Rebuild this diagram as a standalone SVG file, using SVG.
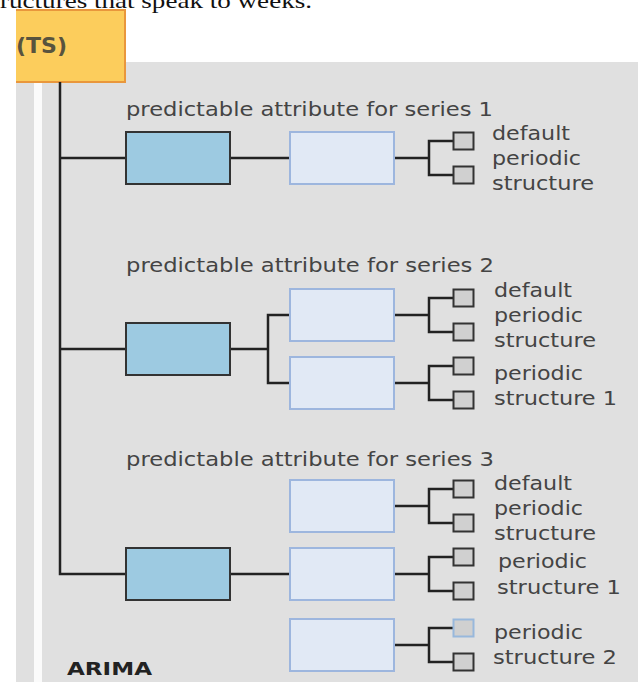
<svg xmlns="http://www.w3.org/2000/svg" width="638" height="682" viewBox="0 0 638 682">
<style>
.conn{stroke:#222;stroke-width:2.5;fill:none}
.dark{fill:#9dcae1;stroke:#333;stroke-width:2}
.light{fill:#e1e9f5;stroke:#9db6de;stroke-width:2}
.sq{fill:#d0d0d0;stroke:#333;stroke-width:2}
.sqb{fill:#d0d0d0;stroke:#98b8dc;stroke-width:2}
.lbl{font-family:"DejaVu Sans","Liberation Sans",sans-serif;font-size:19.5px;fill:#444}
.ser{font-family:"DejaVu Sans","Liberation Sans",sans-serif;font-size:19.5px;fill:#444}
</style>
<rect x="0" y="0" width="638" height="682" fill="#ffffff"/>
<text x="0" y="8" font-family="Liberation Serif, serif" font-size="22" fill="#111" textLength="312" lengthAdjust="spacingAndGlyphs">ructures that speak to weeks.</text>
<rect x="16" y="62" width="622" height="620" fill="#e0e0e0"/>
<rect x="34" y="82" width="8" height="600" fill="#fbfbfb"/>
<g id="ts">
<rect x="16" y="10" width="109" height="72" fill="#fccd5c"/>
<path d="M16,10 H125 V82 H16" fill="none" stroke="#e9973c" stroke-width="2"/>
<text x="16" y="53" font-family="DejaVu Sans, sans-serif" font-weight="bold" font-size="21" fill="#58533e" textLength="51" lengthAdjust="spacingAndGlyphs">(TS)</text>
</g>
<g id="connectors">
<path class="conn" d="M60,82 V574 H126 M60,158 H126 M60,349 H126 M230,158 H290 M230,349 H268 M290,315 H268 V383 H290 M230,574 H290"/>
<path class="conn" d="M394,158 H429 M453,141 H429 V175 H453"/>
<path class="conn" d="M394,315 H429 M453,298 H429 V332 H453"/>
<path class="conn" d="M394,383 H429 M453,366 H429 V400 H453"/>
<path class="conn" d="M394,506 H429 M453,489 H429 V523 H453"/>
<path class="conn" d="M394,574 H429 M453,557 H429 V591 H453"/>
<path class="conn" d="M394,645 H429 M453,628 H429 V662 H453"/>
</g>
<g id="series1">
<text class="ser" x="126" y="116" textLength="367" lengthAdjust="spacingAndGlyphs">predictable attribute for series 1</text>
<rect class="dark" x="126" y="132" width="104" height="52"/>
</g>
<g id="s1-default">
<rect class="light" x="290" y="132" width="104" height="52"/>
<rect class="sq" x="453.5" y="132.5" width="20" height="17"/>
<rect class="sq" x="453.5" y="166.5" width="20" height="17"/>
<text class="lbl" x="492" y="140" textLength="78" lengthAdjust="spacingAndGlyphs">default</text>
<text class="lbl" x="492" y="165" textLength="89" lengthAdjust="spacingAndGlyphs">periodic</text>
<text class="lbl" x="492" y="190" textLength="102" lengthAdjust="spacingAndGlyphs">structure</text>
</g>
<g id="series2">
<text class="ser" x="126" y="272" textLength="368" lengthAdjust="spacingAndGlyphs">predictable attribute for series 2</text>
<rect class="dark" x="126" y="323" width="104" height="52"/>
</g>
<g id="s2-default">
<rect class="light" x="290" y="289" width="104" height="52"/>
<rect class="sq" x="453.5" y="289.5" width="20" height="17"/>
<rect class="sq" x="453.5" y="323.5" width="20" height="17"/>
<text class="lbl" x="494" y="297" textLength="78" lengthAdjust="spacingAndGlyphs">default</text>
<text class="lbl" x="494" y="322" textLength="89" lengthAdjust="spacingAndGlyphs">periodic</text>
<text class="lbl" x="494" y="347" textLength="102" lengthAdjust="spacingAndGlyphs">structure</text>
</g>
<g id="s2-ps1">
<rect class="light" x="290" y="357" width="104" height="52"/>
<rect class="sq" x="453.5" y="357.5" width="20" height="17"/>
<rect class="sq" x="453.5" y="391.5" width="20" height="17"/>
<text class="lbl" x="494" y="380" textLength="89" lengthAdjust="spacingAndGlyphs">periodic</text>
<text class="lbl" x="494" y="405" textLength="123" lengthAdjust="spacingAndGlyphs">structure 1</text>
</g>
<g id="series3">
<text class="ser" x="126" y="466" textLength="368" lengthAdjust="spacingAndGlyphs">predictable attribute for series 3</text>
<rect class="dark" x="126" y="548" width="104" height="52"/>
</g>
<g id="s3-default">
<rect class="light" x="290" y="480" width="104" height="52"/>
<rect class="sq" x="453.5" y="480.5" width="20" height="17"/>
<rect class="sq" x="453.5" y="514.5" width="20" height="17"/>
<text class="lbl" x="494" y="490" textLength="78" lengthAdjust="spacingAndGlyphs">default</text>
<text class="lbl" x="494" y="515" textLength="89" lengthAdjust="spacingAndGlyphs">periodic</text>
<text class="lbl" x="494" y="540" textLength="102" lengthAdjust="spacingAndGlyphs">structure</text>
</g>
<g id="s3-ps1">
<rect class="light" x="290" y="548" width="104" height="52"/>
<rect class="sq" x="453.5" y="548.5" width="20" height="17"/>
<rect class="sq" x="453.5" y="582.5" width="20" height="17"/>
<text class="lbl" x="498" y="568" textLength="89" lengthAdjust="spacingAndGlyphs">periodic</text>
<text class="lbl" x="497" y="594" textLength="124" lengthAdjust="spacingAndGlyphs">structure 1</text>
</g>
<g id="s3-ps2">
<rect class="light" x="290" y="619" width="104" height="52"/>
<rect class="sqb" x="453.5" y="619.5" width="20" height="17"/>
<rect class="sq" x="453.5" y="653.5" width="20" height="17"/>
<text class="lbl" x="494" y="639" textLength="89" lengthAdjust="spacingAndGlyphs">periodic</text>
<text class="lbl" x="493" y="664" textLength="124" lengthAdjust="spacingAndGlyphs">structure 2</text>
</g>
<g id="arima">
<text x="67" y="675" font-family="DejaVu Sans, sans-serif" font-weight="bold" font-size="18" fill="#222" textLength="85" lengthAdjust="spacingAndGlyphs">ARIMA</text>
</g>
</svg>
